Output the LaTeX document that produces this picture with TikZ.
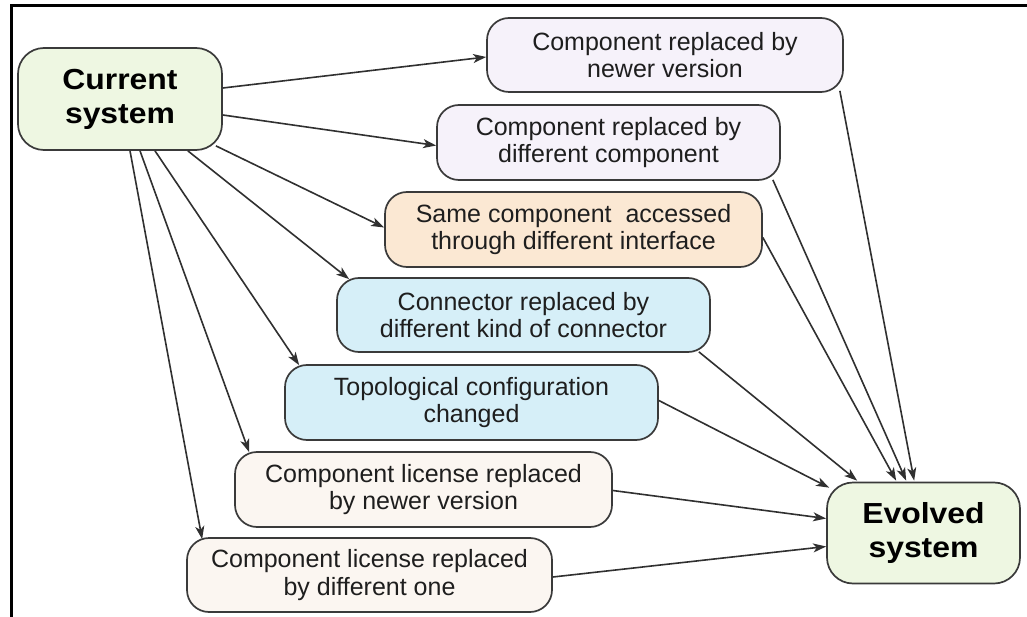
\documentclass[tikz,border=0pt]{standalone}
\usepackage{fontspec}
\setmainfont{Liberation Sans}
\newfontfamily\wideboldfont{Liberation Sans}[FakeStretch=1.1]
\usetikzlibrary{arrows.meta,calc}
\definecolor{greenfill}{HTML}{EEF7E2}
\definecolor{lavfill}{HTML}{F6F2FA}
\definecolor{peachfill}{HTML}{FBE8D3}
\definecolor{bluefill}{HTML}{D6EFF8}
\definecolor{creamfill}{HTML}{FBF6F1}
\definecolor{boxline}{HTML}{3A3A3A}
\definecolor{arrcol}{HTML}{303030}
\definecolor{txt}{HTML}{1E1E1E}
\begin{document}
\begin{tikzpicture}[x=1pt,y=-1pt,
  box/.style={draw=boxline, line width=1.7pt, rounded corners=22pt, align=center,
    inner sep=0pt, text=txt, font=\fontsize{25}{27.5}\selectfont},
  bigbox/.style={box, rounded corners=26pt, fill=greenfill,
    font=\wideboldfont\bfseries\fontsize{29}{34}\selectfont, text=black},
  arr/.style={draw=arrcol, line width=1.6pt, -{Stealth[length=13pt,width=9pt,inset=3.5pt]}}]
\useasboundingbox (0,0) rectangle (1027,617);
\fill[white] (0,0) rectangle (1027,617);
\draw[line width=3pt, line cap=rect] (11,617) -- (11,5.5) -- (1027,5.5);

\node[bigbox, minimum width=204pt, minimum height=102pt] (cur) at (120,99) {Current\\system};
\node[bigbox, minimum width=193pt, minimum height=101pt] (ev) at (923.5,533) {Evolved\\system};

\node[box, fill=lavfill, minimum width=356pt, minimum height=74pt] (n1) at (665,55)
  {Component replaced by\\newer version};
\node[box, fill=lavfill, minimum width=343pt, minimum height=75pt] (n2) at (608.5,142.5)
  {Component replaced by\\different component};
\node[box, fill=peachfill, minimum width=377pt, minimum height=75pt] (n3) at (573.5,229.5)
  {Same component~ accessed\\through different interface};
\node[box, fill=bluefill, minimum width=373pt, minimum height=74pt] (n4) at (523.5,315)
  {Connector replaced by\\different kind of connector};
\node[box, fill=bluefill, minimum width=373pt, minimum height=75pt] (n5) at (471.5,402.5)
  {Topological configuration\\changed};
\node[box, fill=creamfill, minimum width=377pt, minimum height=75pt] (n6) at (423.5,489.5)
  {Component license replaced\\by newer version};
\node[box, fill=creamfill, minimum width=365pt, minimum height=74pt] (n7) at (369.5,575)
  {Component license replaced\\by different one};

% from current system
\draw[arr] ([shift={(0,-11)}]cur.east) -- ([shift={(0,2)}]n1.west);
\draw[arr] ([shift={(0,16)}]cur.east) -- ([shift={(0,3)}]n2.west);
\draw[arr] ([shift={(-7,-5)}]cur.south east) -- ([shift={(0,-2)}]n3.west);
\draw[arr] ([shift={(-35,0)}]cur.south east) -- ([shift={(13,2)}]n4.north west);
\draw[arr] ([shift={(35,0)}]cur.south) -- ([shift={(15,1)}]n5.north west);
\draw[arr] ([shift={(20,0)}]cur.south) -- ([shift={(15,1)}]n6.north west);
\draw[arr] ([shift={(10,0)}]cur.south) -- ([shift={(16,2)}]n7.north west);

% to evolved system
\draw[arr] ([shift={(-4,-2)}]n1.south east) -- ([shift={(88,-1)}]ev.north west);
\draw[arr] ([shift={(-8,-1)}]n2.south east) -- ([shift={(80,-1)}]ev.north west);
\draw[arr] ([shift={(0,8)}]n3.east) -- ([shift={(70,-1)}]ev.north west);
\draw[arr] ([shift={(-12,-1)}]n4.south east) -- ([shift={(31,-1)}]ev.north west);
\draw[arr] ([shift={(0,-2)}]n5.east) -- ([shift={(3,6)}]ev.north west);
\draw[arr] ([shift={(0,1)}]n6.east) -- ([shift={(0,-14.5)}]ev.west);
\draw[arr] ([shift={(0,2)}]n7.east) -- ([shift={(0,13.5)}]ev.west);
\end{tikzpicture}
\end{document}
